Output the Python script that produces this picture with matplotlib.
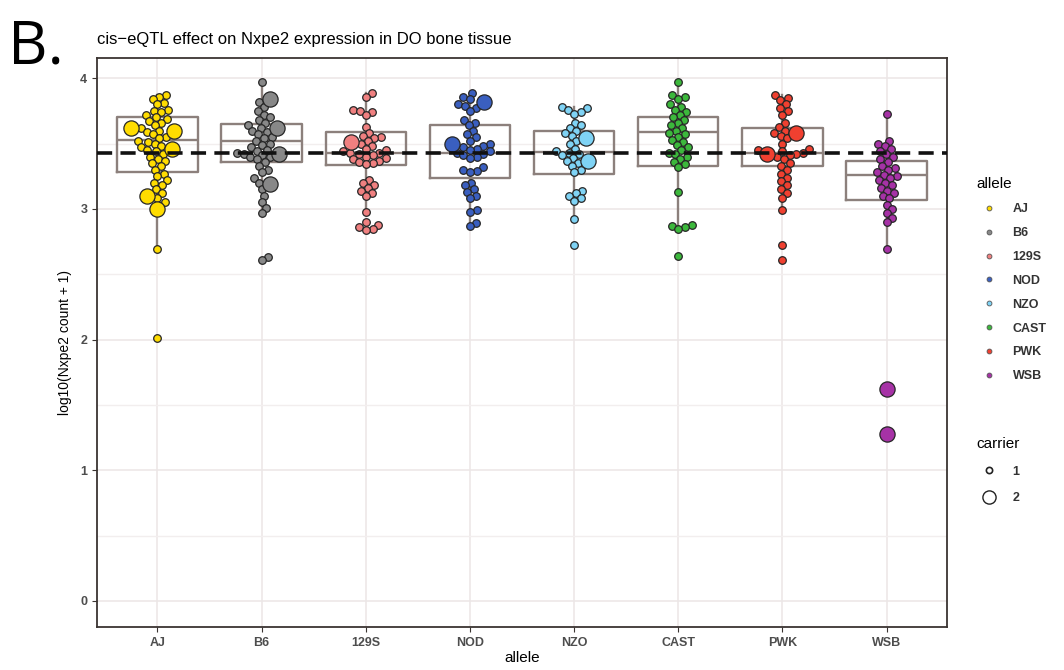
import numpy as np
import matplotlib.pyplot as plt
from matplotlib.lines import Line2D

plt.rcParams['font.family'] = ['Liberation Sans Narrow', 'Liberation Sans', 'DejaVu Sans']

# ---------------- data ----------------
alleles = ['AJ', 'B6', '129S', 'NOD', 'NZO', 'CAST', 'PWK', 'WSB']
allele_colors = ['#FFDC00', '#888888', '#F08080', '#3A5FC0',
                 '#7FD3F5', '#3CB83C', '#F04030', '#A632A6']

# log10(count+1) values, carrier = 1 (one copy)
aj_1 = [3.87, 3.86, 3.84, 3.81, 3.80, 3.76, 3.75, 3.74, 3.72, 3.70, 3.69, 3.67,
        3.66, 3.64, 3.62, 3.60, 3.59, 3.57, 3.55, 3.54, 3.52, 3.51, 3.50, 3.48,
        3.47, 3.45, 3.44, 3.42, 3.40, 3.38, 3.37, 3.35, 3.33, 3.30, 3.27, 3.25,
        3.22, 3.20, 3.18, 3.15, 3.12, 3.08, 3.05, 2.69, 2.01]
b6_1 = [3.97, 3.82, 3.78, 3.75, 3.72, 3.70, 3.68, 3.66, 3.64, 3.62, 3.60, 3.59,
        3.57, 3.55, 3.54, 3.52, 3.50, 3.49, 3.47, 3.45, 3.44, 3.43, 3.42, 3.41,
        3.40, 3.40, 3.38, 3.36, 3.33, 3.30, 3.28, 3.24, 3.20, 3.15, 3.10, 3.05,
        3.01, 2.97, 2.63, 2.61]
s129_1 = [3.89, 3.86, 3.76, 3.75, 3.74, 3.72, 3.63, 3.58, 3.56, 3.55, 3.54,
          3.52, 3.50, 3.48, 3.46, 3.45, 3.44, 3.43, 3.43, 3.42, 3.41, 3.40,
          3.39, 3.38, 3.37, 3.36, 3.35, 3.34, 3.22, 3.20, 3.18, 3.16, 3.14,
          3.12, 3.10, 2.98, 2.90, 2.88, 2.86, 2.85, 2.84]
nod_1 = [3.89, 3.86, 3.84, 3.80, 3.79, 3.77, 3.75, 3.68, 3.66, 3.64, 3.60, 3.57,
         3.55, 3.52, 3.50, 3.48, 3.47, 3.46, 3.45, 3.44, 3.43, 3.42, 3.41, 3.40,
         3.39, 3.32, 3.30, 3.29, 3.28, 3.20, 3.18, 3.15, 3.13, 3.10, 3.08, 2.99,
         2.98, 2.89, 2.87]
nzo_1 = [3.78, 3.77, 3.76, 3.74, 3.73, 3.66, 3.64, 3.62, 3.60, 3.58, 3.56, 3.52,
         3.50, 3.46, 3.44, 3.43, 3.42, 3.41, 3.39, 3.37, 3.35, 3.33, 3.30, 3.28,
         3.14, 3.12, 3.10, 3.08, 3.06, 2.92, 2.72]
cast_1 = [3.97, 3.87, 3.86, 3.84, 3.80, 3.78, 3.76, 3.74, 3.72, 3.70, 3.68, 3.66,
          3.64, 3.62, 3.60, 3.58, 3.57, 3.55, 3.53, 3.51, 3.49, 3.47, 3.45, 3.43,
          3.42, 3.40, 3.38, 3.36, 3.34, 3.32, 3.13, 2.88, 2.87, 2.86, 2.85, 2.64]
pwk_1 = [3.87, 3.85, 3.83, 3.80, 3.77, 3.75, 3.72, 3.66, 3.63, 3.60, 3.58, 3.56,
         3.54, 3.50, 3.46, 3.45, 3.44, 3.43, 3.42, 3.41, 3.40, 3.38, 3.35, 3.33,
         3.30, 3.27, 3.24, 3.21, 3.18, 3.15, 3.12, 3.08, 2.99, 2.72, 2.61]
wsb_1 = [3.73, 3.52, 3.50, 3.48, 3.46, 3.44, 3.42, 3.40, 3.38, 3.36, 3.33, 3.31,
         3.30, 3.28, 3.26, 3.25, 3.24, 3.22, 3.20, 3.18, 3.16, 3.14, 3.12, 3.10,
         3.08, 3.03, 3.00, 2.97, 2.93, 2.90, 2.69]

# carrier = 2 (two copies)
aj_2 = [3.62, 3.60, 3.46, 3.10, 3.00]
b6_2 = [3.84, 3.62, 3.42, 3.19]
s129_2 = [3.51]
nod_2 = [3.82, 3.50]
nzo_2 = [3.54, 3.37]
cast_2 = []
pwk_2 = [3.58, 3.42]
wsb_2 = [1.62, 1.28]

carrier1 = [aj_1, b6_1, s129_1, nod_1, nzo_1, cast_1, pwk_1, wsb_1]
carrier2 = [aj_2, b6_2, s129_2, nod_2, nzo_2, cast_2, pwk_2, wsb_2]

# box statistics
box_q1 = [3.28, 3.36, 3.335, 3.235, 3.265, 3.33, 3.33, 3.07]
box_med = [3.53, 3.52, 3.43, 3.43, 3.435, 3.59, 3.43, 3.26]
box_q3 = [3.70, 3.65, 3.59, 3.64, 3.60, 3.70, 3.62, 3.37]
whisk_lo = [2.69, 2.97, 2.98, 2.87, 2.92, 2.86, 2.99, 2.69]
whisk_hi = [3.87, 3.97, 3.89, 3.89, 3.78, 3.97, 3.87, 3.73]

overall_mean = 3.43


# simple swarm layout (in pixel space)
def swarm_offsets(y_px, radii):
    order = np.argsort(y_px)
    placed = []
    offs = np.zeros(len(y_px))
    for i in order:
        y, r = y_px[i], radii[i]
        cands = [0.0]
        for xj, yj, rj in placed:
            dy = y - yj
            d = r + rj
            if abs(dy) < d:
                dx = np.sqrt(d * d - dy * dy)
                cands += [xj + dx, xj - dx]
        cands.sort(key=abs)
        best = cands[-1]
        for c in cands:
            if all((c - xj) ** 2 + (y - yj) ** 2 >= (r + rj) ** 2 - 1e-6
                   for xj, yj, rj in placed):
                best = c
                break
        placed.append((best, y, r))
        offs[i] = best
    return offs


# ---------------- figure ----------------
fig = plt.figure(figsize=(10.64, 6.70), dpi=100)
ax = fig.add_axes([97 / 1064, 1 - 627 / 670, 850 / 1064, 569 / 670])
ax.set_xlim(0.42, 8.58)
ax.set_ylim(-0.2, 4.155)

pos = np.arange(1, len(alleles) + 1)

# px per data unit
p0 = ax.transData.transform((0, 0))
p1 = ax.transData.transform((1, 1))
px_x = p1[0] - p0[0]
px_y = p1[1] - p0[1]

# boxes
stats = []
for i in range(len(alleles)):
    stats.append(dict(q1=box_q1[i], med=box_med[i], q3=box_q3[i],
                      whislo=whisk_lo[i], whishi=whisk_hi[i], fliers=[]))
box_col = '#8C807C'
ax.bxp(stats, positions=pos, widths=0.77, showcaps=False, showfliers=False,
       boxprops=dict(color=box_col, lw=1.7),
       whiskerprops=dict(color=box_col, lw=1.7),
       medianprops=dict(color=box_col, lw=1.7), manage_ticks=False, zorder=2)

# points
r_small, r_big = 3.5, 6.8
for i in range(len(alleles)):
    vals = np.array(carrier1[i] + carrier2[i], dtype=float)
    big = np.array([False] * len(carrier1[i]) + [True] * len(carrier2[i]))
    radii = np.where(big, r_big, r_small)
    offs = swarm_offsets(vals * px_y, radii)
    xs = pos[i] + offs / px_x
    ax.scatter(xs[~big], vals[~big], s=30, c=allele_colors[i],
               edgecolors='#262626', linewidths=0.9, zorder=3)
    ax.scatter(xs[big], vals[big], s=120, c=allele_colors[i],
               edgecolors='#262626', linewidths=0.9, zorder=3)

# overall mean line
ax.axhline(overall_mean, color='#111111', lw=2.6, ls=(0, (4.2, 2.3)), zorder=4)

# axes styling
ax.set_xticks(pos)
ax.set_xticklabels(alleles)
ax.set_yticks([0, 1, 2, 3, 4])
ax.set_yticks([0.5, 1.5, 2.5, 3.5], minor=True)
ax.grid(which='major', color='#ECE6E6', lw=1.1, zorder=0)
ax.grid(which='minor', axis='y', color='#F2EEEE', lw=1.0, zorder=0)
ax.set_axisbelow(True)
for s in ax.spines.values():
    s.set_color('#3A3431')
    s.set_linewidth(1.3)
ax.tick_params(which='major', length=3.5, color='#3A3431', labelsize=9,
               labelcolor='#4D4D4D')
ax.tick_params(which='minor', length=0)
for lab in ax.get_xticklabels() + ax.get_yticklabels():
    lab.set_fontweight('bold')

ax.set_xlabel('allele', fontsize=11, labelpad=2)
ax.set_ylabel('log10(Nxpe2 count + 1)', fontsize=10, labelpad=6)
ax.set_title('cis\u2212eQTL effect on Nxpe2 expression in DO bone tissue',
             loc='left', fontsize=12, pad=10)

fig.text(8 / 1064, 1 - 64 / 670, 'B.', fontsize=44, ha='left', va='baseline',
         family=['Open Sans', 'DejaVu Sans'])

# legends
allele_handles = [Line2D([], [], ls='none', marker='o', ms=3.5, mfc=c,
                         mec='#555555', mew=0.6) for c in allele_colors]
leg1 = fig.legend(allele_handles, alleles, title='allele', loc='upper left',
                  bbox_to_anchor=(965 / 1064, 1 - 166 / 670), frameon=False,
                  fontsize=9, title_fontsize=11, labelspacing=0.95,
                  handletextpad=0.9, alignment='left')
for t in leg1.get_texts():
    t.set_fontweight('bold')
    t.set_color('#333333')

carrier_handles = [Line2D([], [], ls='none', marker='o', ms=4.5, mfc='white',
                          mec='#222222', mew=1.2),
                   Line2D([], [], ls='none', marker='o', ms=9.5, mfc='white',
                          mec='#222222', mew=1.0)]
leg2 = fig.legend(carrier_handles, ['1', '2'], title='carrier', loc='upper left',
                  bbox_to_anchor=(965 / 1064, 1 - 426 / 670), frameon=False,
                  fontsize=9, title_fontsize=11, labelspacing=1.15,
                  handletextpad=0.9, alignment='left')
for t in leg2.get_texts():
    t.set_fontweight('bold')
    t.set_color('#333333')

fig.savefig('out.png', dpi=100)
